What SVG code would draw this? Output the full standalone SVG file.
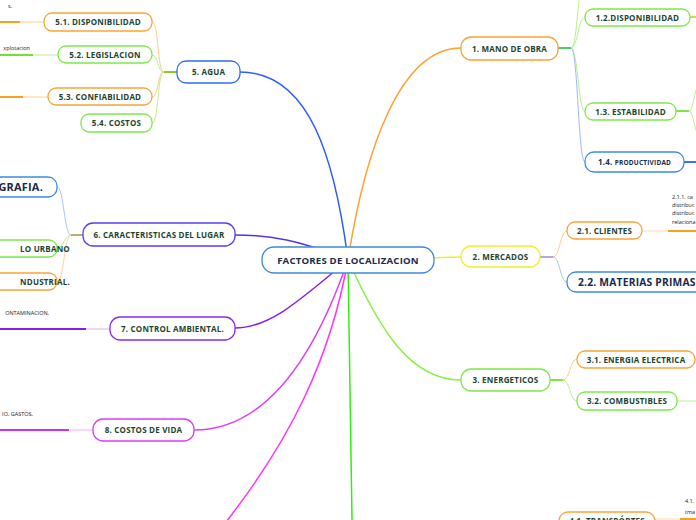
<svg xmlns="http://www.w3.org/2000/svg" width="696" height="520" viewBox="0 0 696 520">
<style>
.n{fill:#fff;stroke-width:1.3}
.t{font-family:"Open Sans","Liberation Sans",sans-serif;font-weight:bold;font-size:8px;fill:#1d4530;text-anchor:middle;letter-spacing:0.2px}
.tb{font-family:"Open Sans","Liberation Sans",sans-serif;font-weight:bold;font-size:11px;fill:#1a2b4c;letter-spacing:0.2px}
.s{font-family:"Open Sans","Liberation Sans",sans-serif;font-size:5.5px;fill:#222}
.c{fill:none;stroke-width:1.5}
.o{stroke:#f8a534}.g{stroke:#7ee84a}.b{stroke:#3d8be0}
</style>
<rect width="696" height="520" fill="#fff"/>
<g id="connectors" fill="none">
  <path class="c" stroke="#2a5cff" d="M348,260 C335,160 310,72 240,72"/>
  <path class="c" stroke="#ffa030" d="M348,260 C365,150 400,48 461,48"/>
  <path class="c" stroke="#eeee30" d="M348,260 L461,257"/>
  <path class="c" stroke="#88ee44" d="M348,260 C380,330 410,380 461,380"/>
  <path class="c" stroke="#33ee11" d="M348,260 C350,360 351,440 352,520"/>
  <path class="c" stroke="#ff33ff" d="M348,260 C330,360 290,440 226,522"/>
  <path class="c" stroke="#e040f0" d="M348,260 C310,370 260,430 194,430"/>
  <path class="c" stroke="#8a1ee8" d="M348,260 C300,300 270,328 235,328"/>
  <path class="c" stroke="#5533ee" d="M348,260 C300,240 270,235 235,235"/>
  <path stroke="#88d020" stroke-width="2" d="M177,72 L164,72"/>
  <path stroke="#ffcc88" stroke-width="1" d="M164,72 C157,72 159,22 152,22"/>
  <path stroke="#b8f090" stroke-width="1" d="M164,72 C157,72 159,55 152,55"/>
  <path stroke="#ffcc88" stroke-width="1" d="M164,72 C157,72 159,97 152,97"/>
  <path stroke="#b8f090" stroke-width="1" d="M164,72 C157,72 159,123 152,123"/>
  <path stroke="#ffcc88" stroke-width="1" d="M44,22 L20,22"/>
  <path stroke="#f8a020" stroke-width="2" d="M20,22 L0,22"/>
  <path stroke="#b8f090" stroke-width="1" d="M58,55 L33,55"/>
  <path stroke="#77dd33" stroke-width="2" d="M33,55 L0,55"/>
  <path stroke="#ffcc88" stroke-width="1" d="M48,97 L23,97"/>
  <path stroke="#f8a020" stroke-width="2" d="M23,97 L0,97"/>
  <path stroke="#b8b070" stroke-width="2" d="M83,235 L71,235"/>
  <path stroke="#a8c4f0" stroke-width="1" d="M71,235 C64,235 64,187 57,187"/>
  <path stroke="#c0f0a0" stroke-width="1" d="M71,235 C64,235 64,248 57,248"/>
  <path stroke="#ffd0a0" stroke-width="1" d="M71,235 C64,235 64,282 57,282"/>
  <path stroke="#d9b0f5" stroke-width="1" d="M110,329 L86,329"/>
  <path stroke="#8a1ee8" stroke-width="2" d="M86,329 L0,329"/>
  <path stroke="#f0b0f5" stroke-width="1" d="M93,430 L69,430"/>
  <path stroke="#d030e8" stroke-width="2" d="M69,430 L0,430"/>
  <path stroke="#50c878" stroke-width="2" d="M558,48 L571,48"/>
  <path stroke="#b8f090" stroke-width="1" d="M571,48 C578,48 577,-20 585,-20"/>
  <path stroke="#b8f090" stroke-width="1" d="M571,48 C578,48 578,17 585,17"/>
  <path stroke="#b8f090" stroke-width="1" d="M571,48 C578,48 578,111 585,111"/>
  <path stroke="#a0b8f8" stroke-width="1" d="M571,48 C578,48 578,162 585,162"/>
  <path stroke="#c8e040" stroke-width="2" d="M690,17 L696,17"/>
  <path stroke="#88e044" stroke-width="2" d="M676,111 L689,111"/>
  <path stroke="#b8f090" stroke-width="1" d="M689,111 C694,111 694,85 700,85"/>
  <path stroke="#b8f090" stroke-width="1" d="M689,111 C694,111 694,135 700,135"/>
  <path stroke="#3d6df0" stroke-width="2" d="M684,162 L696,162"/>
  <path stroke="#b0a8e0" stroke-width="2" d="M540,257 L553,257"/>
  <path stroke="#ffcc88" stroke-width="1" d="M553,257 C560,257 560,231 567,231"/>
  <path stroke="#a8c4f0" stroke-width="1" d="M553,257 C560,257 560,282 567,282"/>
  <path stroke="#ffdcb0" stroke-width="1" d="M642,231 L668,231"/>
  <path stroke="#f8a020" stroke-width="2" d="M668,231 L696,231"/>
  <path stroke="#88e044" stroke-width="2" d="M550,380 L563,380"/>
  <path stroke="#ffcc88" stroke-width="1" d="M563,380 C570,380 570,359 577,359"/>
  <path stroke="#b8f090" stroke-width="1" d="M563,380 C570,380 570,401 577,401"/>
  <path stroke="#b8f090" stroke-width="1" d="M677,401 L696,401"/>
  <path stroke="#ffcc88" stroke-width="1" d="M540,521 L559,521"/>
  <path stroke="#ffdcb0" stroke-width="1" d="M655,519 L680,519"/>
  <path stroke="#f8a020" stroke-width="2" d="M680,519 L696,519"/>
</g>
<g id="center">
  <rect x="262" y="247" width="172" height="26" rx="12" class="n" stroke="#3d8bd8"/>
  <text x="348" y="263.5" class="tb" text-anchor="middle" font-size="9.6" style="font-size:9.6px">FACTORES DE LOCALIZACION</text>
</g>
<g id="n5"><rect x="177" y="61" width="63" height="22" rx="9" class="n" stroke="#2f6df0"/><text x="208.5" y="75" class="t">5. AGUA</text></g>
<g id="n51"><rect x="44" y="13" width="108" height="18" rx="8" class="n o"/><text x="98" y="25" class="t">5.1. DISPONIBILIDAD</text></g>
<g id="n52"><rect x="58" y="46" width="94" height="17" rx="8" class="n g"/><text x="105" y="57.5" class="t">5.2. LEGISLACION</text></g>
<g id="n53"><rect x="48" y="88" width="104" height="17" rx="8" class="n o"/><text x="100" y="99.5" class="t">5.3. CONFIABILIDAD</text></g>
<g id="n54"><rect x="81" y="114" width="71" height="18" rx="8" class="n g"/><text x="116.5" y="126" class="t">5.4. COSTOS</text></g>
<g id="n6"><rect x="83" y="223" width="152" height="23" rx="10" class="n" stroke="#5a3df0"/><text x="159" y="237.5" class="t">6. CARACTERISTICAS DEL LUGAR</text></g>
<g id="n61"><rect x="-60" y="177" width="117" height="20" rx="9" class="n b"/><text x="43" y="191" class="tb" text-anchor="end">OGRAFIA.</text></g>
<g id="n62"><rect x="-60" y="240" width="117" height="17" rx="8" class="n g"/><text x="45" y="251.5" class="t" text-anchor="end">LO URBANO</text></g>
<g id="n63"><rect x="-60" y="273" width="117" height="17" rx="8" class="n o"/><text x="45" y="284.5" class="t" text-anchor="end">NDUSTRIAL.</text></g>
<g id="n7"><rect x="110" y="317" width="125" height="23" rx="10" class="n" stroke="#8b2be8"/><text x="172.5" y="331.5" class="t">7. CONTROL AMBIENTAL.</text></g>
<g id="n8"><rect x="93" y="419" width="101" height="22" rx="10" class="n" stroke="#d63ef0"/><text x="143.5" y="433" class="t">8. COSTOS DE VIDA</text></g>
<g id="n1"><rect x="461" y="37" width="97" height="23" rx="10" class="n o"/><text x="509.5" y="51.5" class="t">1. MANO DE OBRA</text></g>
<g id="n12"><rect x="585" y="9" width="105" height="17" rx="8" class="n g"/><text x="637.5" y="20.5" class="t">1.2.DISPONIBILIDAD</text></g>
<g id="n13"><rect x="585" y="103" width="91" height="17" rx="8" class="n g"/><text x="630.5" y="114.5" class="t">1.3. ESTABILIDAD</text></g>
<g id="n14"><rect x="585" y="152" width="99" height="20" rx="9" class="n b"/><text x="634.5" y="165" class="t" style="fill:#1a2b4c">1.4. <tspan font-size="6.5">PRODUCTIVIDAD</tspan></text></g>
<g id="n2"><rect x="461" y="246" width="79" height="21" rx="10" class="n" stroke="#f2ee2a"/><text x="500.5" y="259.5" class="t">2. MERCADOS</text></g>
<g id="n21"><rect x="567" y="222" width="75" height="17" rx="8" class="n o"/><text x="604.5" y="233.5" class="t">2.1. CLIENTES</text></g>
<g id="n22"><rect x="567" y="272" width="160" height="20" rx="9" class="n b"/><text x="578" y="286" class="tb" style="font-size:10.3px">2.2. MATERIAS PRIMAS</text></g>
<g id="n3"><rect x="461" y="369" width="89" height="22" rx="10" class="n g"/><text x="505.5" y="383" class="t">3. ENERGETICOS</text></g>
<g id="n31"><rect x="577" y="351" width="118" height="17" rx="8" class="n o"/><text x="636" y="362.5" class="t">3.1. ENERGIA ELECTRICA</text></g>
<g id="n32"><rect x="577" y="392" width="100" height="18" rx="8" class="n g"/><text x="627" y="404" class="t">3.2. COMBUSTIBLES</text></g>
<g id="n41"><rect x="559" y="512" width="96" height="22" rx="9" class="n o"/><text x="607" y="524" class="t">4.1. TRANSPÓRTES</text></g>
<g id="notes">
  <text x="12" y="8" class="s" text-anchor="end">s,</text>
  <text x="30" y="50" class="s" text-anchor="end">xplotacion</text>
  <text x="49" y="315" class="s" text-anchor="end">ONTAMINACION,</text>
  <text x="33" y="416" class="s" text-anchor="end">IO, GASTOS,</text>
  <text x="672" y="199" class="s">2.1.1. ca</text>
  <text x="672" y="207" class="s">distribuc</text>
  <text x="672" y="215" class="s">distribuc</text>
  <text x="672" y="224" class="s">relaciona</text>
  <text x="685" y="503" class="s">4.1.</text>
  <text x="685" y="514" class="s">tma</text>
</g>
</svg>
